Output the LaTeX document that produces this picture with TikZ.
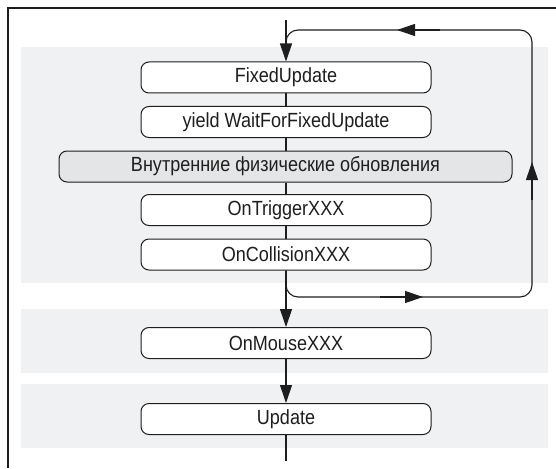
\documentclass[tikz,border=0pt]{standalone}
\usepackage{fontspec}
\setmainfont[FakeStretch=0.88]{Liberation Sans}
\usetikzlibrary{arrows.meta}
\definecolor{band}{HTML}{F0F1F3}
\definecolor{inner}{HTML}{E4E5E7}
\definecolor{ink}{HTML}{1E1E1E}
\tikzset{
  stepbox/.style={draw=ink, line width=1pt, rounded corners=8pt, fill=white,
    minimum width=290pt, minimum height=31pt, inner sep=0pt,
    font=\fontsize{20.5}{24}\selectfont, text=ink},
  innerbox/.style={stepbox, fill=inner, minimum width=453pt},
  conn/.style={draw=ink, line width=1.1pt},
  arr/.style={conn, -{Triangle[length=18pt,width=12pt]}},
  bandbox/.style={fill=band, draw=none}
}
\begin{document}
\begin{tikzpicture}[x=1pt,y=-1pt]
\useasboundingbox (0,0) rectangle (556,468);
\fill[white] (0,0) rectangle (556,468);
% frame
\draw[ink, line width=1.3pt] (8,468) -- (8,8) -- (556,8);
% bands
\path[bandbox] (21,47) rectangle (548,283);
\path[bandbox] (21,309) rectangle (548,373);
\path[bandbox] (21,384) rectangle (548,448);
% loop
\coordinate (lb) at (286,297);
\coordinate (rb) at (532,297);
\coordinate (rt) at (532,30);
\coordinate (lt) at (286,30);
\coordinate (lend) at (286,50);
\coordinate (top) at (286,20);
\coordinate (bot) at (286,461);
\coordinate (abS) at (380,297);
\coordinate (abE) at (423,297);
\coordinate (arS) at (532,200);
\coordinate (arE) at (532,162);
\coordinate (atS) at (440,30);
\coordinate (atE) at (397,30);
\draw[conn, rounded corners=12pt] (286,270) -- (lb) -- (rb) -- (rt) -- (lt) -- (lend);
\draw[arr] (abS) -- (abE);
\draw[arr] (arS) -- (arE);
\draw[arr] (atS) -- (atE);
% nodes
\node[stepbox] (fu) at (286,77.5) {FixedUpdate};
\node[stepbox] (yw) at (286,122) {yield WaitForFixedUpdate};
\node[innerbox] (ip) at (285.5,166.5) {Внутренние физические обновления};
\node[stepbox] (ot) at (286,210) {OnTriggerXXX};
\node[stepbox] (oc) at (286,254.5) {OnCollisionXXX};
\node[stepbox] (om) at (286,343) {OnMouseXXX};
\node[stepbox] (up) at (286,419) {Update};
% connectors
\draw[arr] (top) -- (fu.north);
\draw[conn] (fu.south) -- (yw.north);
\draw[conn] (yw.south) -- (ip.north -| yw.south);
\draw[conn] (ip.south -| ot.north) -- (ot.north);
\draw[conn] (ot.south) -- (oc.north);
\draw[arr] (oc.south) -- (om.north);
\draw[arr] (om.south) -- (up.north);
\draw[conn] (up.south) -- (bot);
\end{tikzpicture}
\end{document}
